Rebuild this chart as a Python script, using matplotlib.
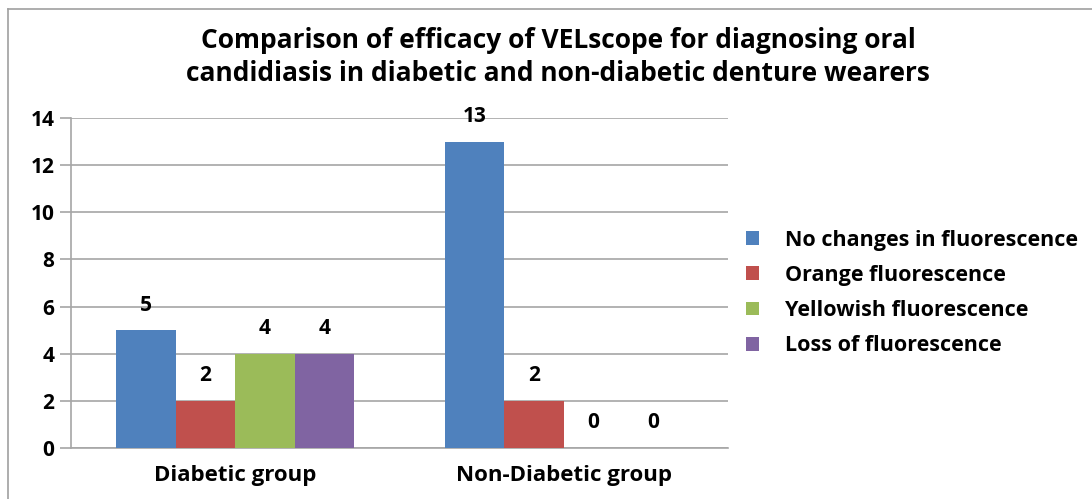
import matplotlib
matplotlib.use("Agg")
import matplotlib.pyplot as plt
import numpy as np

categories = ["Diabetic group", "Non-Diabetic group"]
series_names = ["No changes in fluorescence", "Orange fluorescence",
                "Yellowish fluorescence", "Loss of fluorescence"]
no_change = [5, 13]
orange = [2, 2]
yellowish = [4, 0]
loss = [4, 0]
values = [no_change, orange, yellowish, loss]
colors = ["#4F81BD", "#C0504D", "#9BBB59", "#8064A2"]
yticks = [0, 2, 4, 6, 8, 10, 12, 14]
title = "Comparison of efficacy of VELscope for diagnosing oral\ncandidiasis in diabetic and non-diabetic denture wearers"

plt.rcParams['font.family'] = ['Open Sans', 'DejaVu Sans']
plt.rcParams['font.weight'] = 'bold'

fig = plt.figure(figsize=(10.92, 4.99), dpi=100)
ax = fig.add_axes([71/1092, 1-448/499, (728-71)/1092, (448-118)/499])

x = np.arange(len(categories))
w = 0.181
for i, (name, vals, c) in enumerate(zip(series_names, values, colors)):
    pos = x + (i - 1.5) * w
    ax.bar(pos, vals, width=w, color=c, label=name, zorder=3)
    for p, v in zip(pos, vals):
        ax.annotate(str(v), (p, v), xytext=(0, 18), textcoords="offset points",
                    ha="center", va="center", fontsize=15, fontweight="bold")

ax.set_xlim(-0.5, 1.5)
ax.set_ylim(0, 14)
ax.set_yticks(yticks)
ax.set_yticklabels([str(t) for t in yticks], fontsize=15, fontweight="bold")
ax.tick_params(axis='y', length=8, color="#A6A6A6", width=1.2, pad=4)
ax.set_xticks(x)
ax.set_xticklabels(categories, fontsize=16, fontweight="bold")
ax.tick_params(axis='x', length=0, pad=12)
ax.grid(axis='y', color="#A6A6A6", linewidth=1.2, zorder=0)
for s in ["top", "right"]:
    ax.spines[s].set_visible(False)
ax.spines["left"].set_color("#A6A6A6")
ax.spines["left"].set_linewidth(1.2)
ax.spines["bottom"].set_color("#A6A6A6")
ax.spines["bottom"].set_linewidth(1.2)

fig.text(558/1092, 1-57/499, title, ha="center", va="center", fontsize=19,
         fontweight="bold", linespacing=1.25)

leg = fig.legend(loc="center left", bbox_to_anchor=(735/1092, 1-293/499),
                 frameon=False, fontsize=15.5, handlelength=0.6, handleheight=0.6,
                 handletextpad=1.2, labelspacing=0.66, borderpad=0)

# outer frame (top and left)
fig.add_artist(plt.Line2D([8/1092, 8/1092], [0, 1-9/499], color="#A0A0A0", lw=1.2))
fig.add_artist(plt.Line2D([8/1092, 1], [1-9/499, 1-9/499], color="#A0A0A0", lw=1.2))

fig.savefig("out.png", dpi=100)
